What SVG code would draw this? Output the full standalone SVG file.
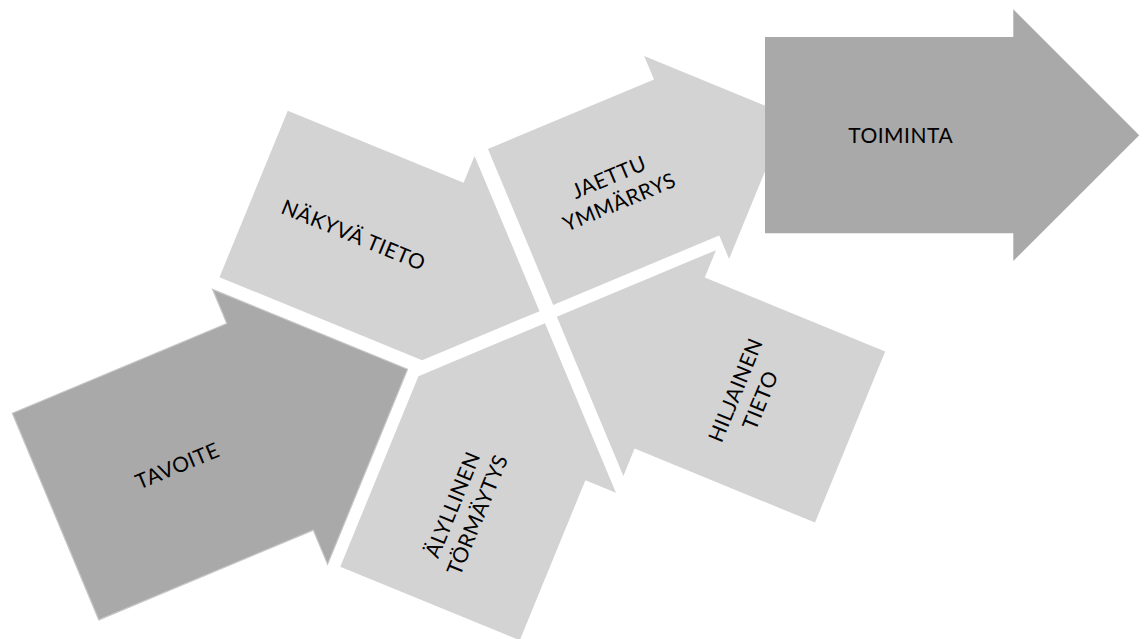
<svg xmlns="http://www.w3.org/2000/svg" width="1146" height="639" viewBox="0 0 1146 639">
  <style>
    .light { fill: #d3d3d3; }
    .dark { fill: #a9a9a9; }
    .edge { stroke: #c6c6c6; stroke-width: 1.2; stroke-linejoin: miter; }
    text { font-family: Lato, "Open Sans", "Liberation Sans", sans-serif; font-size: 21px; fill: #000; text-anchor: middle; letter-spacing: 0.5px; }
  </style>
  <rect width="1146" height="639" fill="#ffffff"/>

  <!-- Cycle block, drawn in a frame tilted by -22.7deg around the centre of the cross -->
  <g id="cycle" transform="translate(548.6 314.2) rotate(-22.7)">
    <g id="nakyva-tieto">
      <polygon class="light" transform="translate(-7.2 -6.3) rotate(45)" points="0,0 -119,-119 -119,-90 -309,-90 -309,90 -90,90"/>
      <text transform="translate(-149.3 -148.4) rotate(45)" x="0" y="7.5">NÄKYVÄ TIETO</text>
    </g>
    <g id="jaettu-ymmarrys">
      <polygon class="light" transform="translate(297.8 -91.3)" points="0,0 -110,-110 -110,-84.5 -290,-84.5 -290,84.5 -110,84.5 -110,110"/>
      <text x="108.5" y="-95.7">JAETTU</text>
      <text x="108.5" y="-68.8">YMMÄRRYS</text>
    </g>
    <g id="hiljainen-tieto">
      <polygon class="light" transform="translate(6.6 5.5) rotate(225)" points="0,0 -122,-122 -122,-92.5 -317,-92.5 -317,92.5 -122,92.5 -122,122"/>
      <g transform="translate(152.6 151.5) rotate(-45)">
        <text x="0" y="-5.9">HILJAINEN</text>
        <text x="0" y="20.9">TIETO</text>
      </g>
    </g>
    <g id="alyllinen-tormaytys">
      <polygon class="light" transform="translate(-6.8 6.9) rotate(-45)" points="0,0 -130,130 -130,97 -303,97 -303,-97 -97,-97"/>
      <g transform="translate(-152.7 148) rotate(-45)">
        <text x="0" y="-5.9">ÄLYLLINEN</text>
        <text x="0" y="20.9">TÖRMÄYTYS</text>
      </g>
    </g>
    <g id="tavoite">
      <polygon class="dark edge" transform="translate(-151.4 -3.6)" points="0,0 -149,-149 -149,-112 -381.5,-112 -381.5,112 -149,112 -149,149"/>
      <text x="-401" y="4">TAVOITE</text>
    </g>
  </g>

  <g id="toiminta">
    <polygon class="dark" points="765,37 1013.3,37 1013.3,9.3 1139.2,135.15 1013.3,261 1013.3,233.3 765,233.3"/>
    <text x="900.7" y="143">TOIMINTA</text>
  </g>
</svg>
